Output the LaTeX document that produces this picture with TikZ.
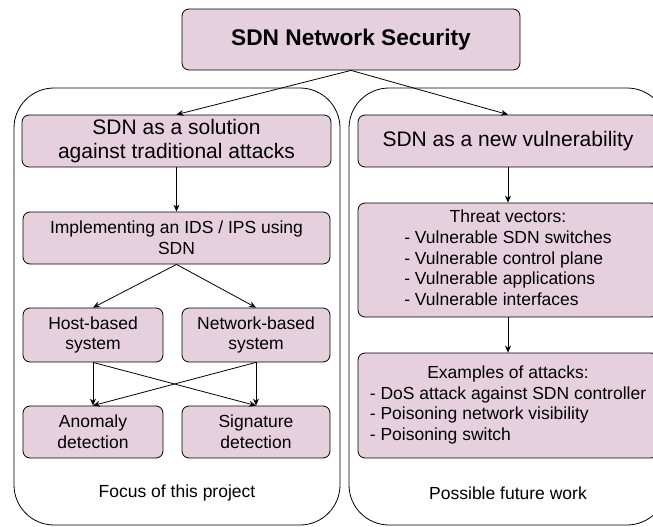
\documentclass[tikz,border=0pt]{standalone}
\usepackage{fontspec}
\setmainfont{Liberation Sans}
\usetikzlibrary{arrows.meta}
\definecolor{boxpink}{rgb}{0.902,0.816,0.871}

\begin{document}
\begin{tikzpicture}[x=1pt,y=-1pt,
  sdnbox/.style={draw=black,fill=boxpink,line width=0.8pt,rounded corners=7pt,
    inner sep=0pt,align=center,font=\fontsize{17.5}{20.6}\selectfont},
  bigbox/.style={sdnbox,font=\fontsize{21}{24.8}\selectfont},
  area/.style={draw=black,line width=0.8pt,rounded corners=40pt},
  flow/.style={-{Stealth[length=7pt,width=6pt]},line width=0.8pt}]
\useasboundingbox (0,0) rectangle (653,527);
\clip (0,0) rectangle (653,527);
% two areas
\draw[area] (14,88) rectangle (340,525);
\draw[area] (349,88) rectangle (667,525);
%
% top
%
\node[sdnbox,minimum width=338pt,minimum height=61pt,
  font=\fontsize{22.7}{26}\selectfont\bfseries] (top) at (351,39.5) {SDN Network Security};
%
% left side
%
\node[bigbox,minimum width=309pt,minimum height=52pt] (sol) at (176.5,141)
  {SDN as a solution\\against traditional attacks};
\node[sdnbox,minimum width=307pt,minimum height=52pt] (ids) at (176.5,238)
  {Implementing an IDS / IPS using\\SDN};
\node[sdnbox,minimum width=140pt,minimum height=54pt] (host) at (93,335) {Host-based\\system};
\node[sdnbox,minimum width=148pt,minimum height=54pt] (net) at (256,335) {Network-based\\system};
\node[sdnbox,minimum width=140pt,minimum height=52pt] (anom) at (93,432) {Anomaly\\detection};
\node[sdnbox,minimum width=148pt,minimum height=52pt] (sig) at (256,432) {Signature\\detection};
\node[font=\fontsize{17.5}{20.6}\selectfont] (focus) at (177,493) {Focus of this project};
%
% right side
%
\node[bigbox,minimum width=300pt,minimum height=52pt] (vuln) at (508,141)
  {SDN as a new vulnerability};
\node[sdnbox,minimum width=300pt,minimum height=114pt] (threat) at (508,260)
  {\begin{tabular}{@{}l@{}}
   \multicolumn{1}{@{}c@{}}{Threat vectors:}\\
   - Vulnerable SDN switches\\
   - Vulnerable control plane\\
   - Vulnerable applications\\
   - Vulnerable interfaces
   \end{tabular}};
\node[sdnbox,minimum width=300pt,minimum height=105pt] (attack) at (508,405.5)
  {\begin{tabular}{@{}l@{}}
   \multicolumn{1}{@{}c@{}}{Examples of attacks:}\\
   - DoS attack against SDN controller\\
   - Poisoning network visibility\\
   - Poisoning switch
   \end{tabular}};
\node[font=\fontsize{17.5}{20.6}\selectfont] (future) at (508,493) {Possible future work};
%
% arrows
%
\draw[flow] (top.south) -- (sol.north);
\draw[flow] (top.south) -- (vuln.north);
\draw[flow] (sol.south) -- (ids.north);
\draw[flow] (ids.south) -- (host.north);
\draw[flow] (ids.south) -- (net.north);
\draw[flow] (host.south) -- (anom.north);
\draw[flow] (host.south) -- (sig.north);
\draw[flow] (net.south) -- (anom.north);
\draw[flow] (net.south) -- (sig.north);
\draw[flow] (vuln.south) -- (threat.north);
\draw[flow] (threat.south) -- (attack.north);
\end{tikzpicture}
\end{document}
